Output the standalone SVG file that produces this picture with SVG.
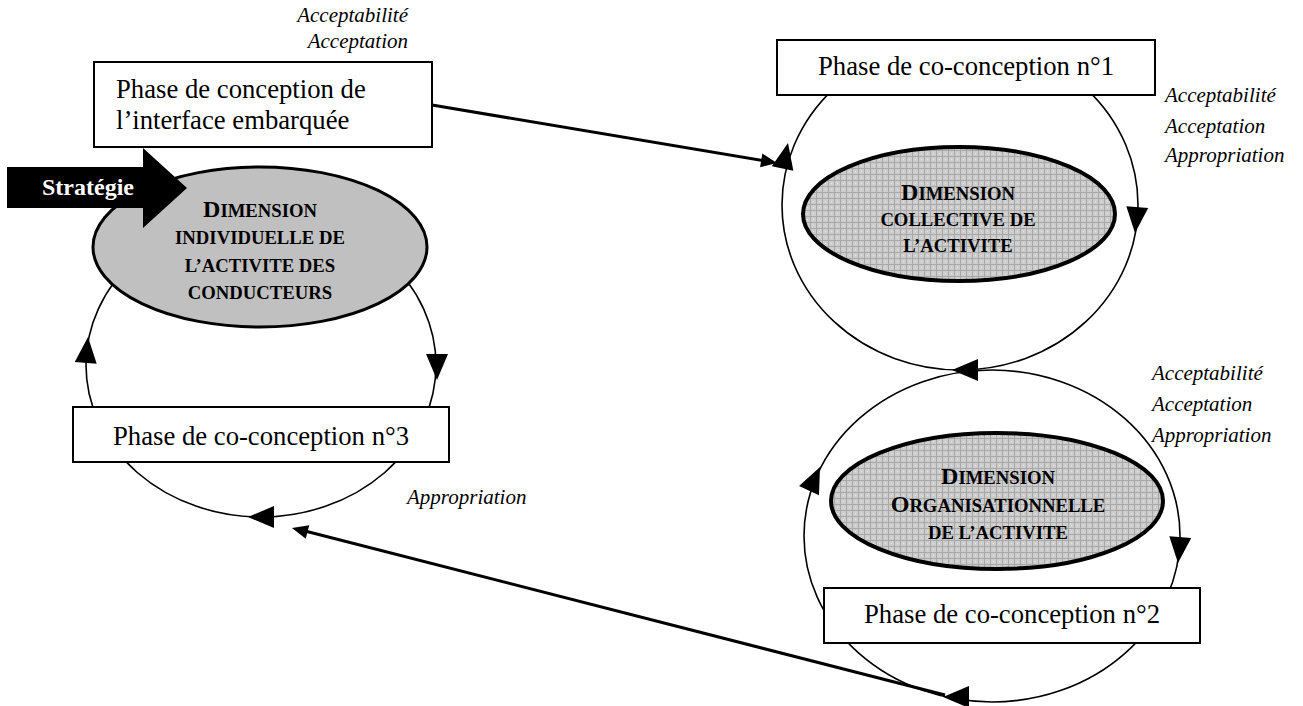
<svg xmlns="http://www.w3.org/2000/svg" xmlns:xlink="http://www.w3.org/1999/xlink" width="1303" height="706" viewBox="0 0 1303 706">
<defs>
<style>
.box{fill:#fff;stroke:#000;stroke-width:2}
.loop{fill:none;stroke:#000;stroke-width:1.6}
.lbl{font-family:"Liberation Serif","Times New Roman",serif;font-size:26.7px;fill:#000}
.it{font-family:"Liberation Serif","Times New Roman",serif;font-size:21px;font-style:italic;fill:#000}
.sc{font-family:"Liberation Serif","Times New Roman",serif;font-weight:bold;font-size:18.7px;fill:#000;text-anchor:middle}
.cap{font-size:24px}
.dim{stroke:#000;stroke-width:4}
.conn{stroke:#000;stroke-width:3;fill:none}
</style>
<pattern id="hatch" width="6" height="6" patternUnits="userSpaceOnUse">
<rect width="6" height="6" fill="#cdcdcd"/>
<path d="M0,0.5H6M0.5,0V6" stroke="#a8a8a8" stroke-width="1"/>
<rect x="3" y="3" width="1" height="1" fill="#e6e6e6"/>
</pattern>
<path id="ah" d="M0,0 L-26,-11 L-26,11 Z" fill="#000"/>
<path id="ahs" d="M0,0 L-16,-7 L-16,7 Z" fill="#000"/>
</defs>
<rect width="1303" height="706" fill="#fff"/>

<g id="connectors">
<ellipse class="loop" cx="261" cy="365" rx="175" ry="152"/>
<ellipse class="loop" cx="960" cy="205" rx="178" ry="165"/>
<ellipse class="loop" cx="992" cy="536" rx="188" ry="166"/>
<use xlink:href="#ah" transform="translate(88,337) rotate(-85)"/>
<use xlink:href="#ah" transform="translate(437,380) rotate(90)"/>
<use xlink:href="#ah" transform="translate(248,517) rotate(180)"/>
<use xlink:href="#ah" transform="translate(788,143) rotate(-78)"/>
<use xlink:href="#ah" transform="translate(1135,233) rotate(95)"/>
<use xlink:href="#ah" transform="translate(952,370) rotate(180)"/>
<use xlink:href="#ah" transform="translate(820,467) rotate(-65)"/>
<use xlink:href="#ah" transform="translate(1178,563) rotate(95)"/>
<use xlink:href="#ah" transform="translate(943,697) rotate(180)"/>
<line class="conn" x1="432" y1="105" x2="765" y2="161"/>
<use xlink:href="#ahs" transform="translate(777,163) rotate(9.5)"/>
<line class="conn" x1="945" y1="695" x2="305" y2="531"/>
<use xlink:href="#ahs" transform="translate(292,528) rotate(194.4)"/>
</g>

<g id="dim-individuelle">
<ellipse cx="260" cy="247" rx="167" ry="80" fill="#c0c0c0" stroke="#000" stroke-width="3"/>
<text class="sc" x="260" y="217"><tspan class="cap">D</tspan>IMENSION</text>
<text class="sc" x="260" y="244">INDIVIDUELLE DE</text>
<text class="sc" x="260" y="272">L’ACTIVITE DES</text>
<text class="sc" x="260" y="299">CONDUCTEURS</text>
</g>

<g id="strategie">
<path d="M7,167 H143 V148 L187,188 L143,228 V208 H7 Z" fill="#000"/>
<text x="42" y="195" font-family="Liberation Serif, Times New Roman, serif" font-weight="bold" font-size="24" fill="#fff">Stratégie</text>
</g>

<g id="dim-collective">
<ellipse class="dim" cx="959" cy="214" rx="156" ry="67" fill="url(#hatch)"/>
<text class="sc" x="958" y="200"><tspan class="cap">D</tspan>IMENSION</text>
<text class="sc" x="958" y="226">COLLECTIVE DE</text>
<text class="sc" x="958" y="252">L’ACTIVITE</text>
</g>

<g id="dim-organisationnelle">
<ellipse class="dim" cx="997" cy="501" rx="166" ry="68" fill="url(#hatch)"/>
<text class="sc" x="998" y="484"><tspan class="cap">D</tspan>IMENSION</text>
<text class="sc" x="998" y="512"><tspan class="cap">O</tspan>RGANISATIONNELLE</text>
<text class="sc" x="998" y="539">DE L’ACTIVITE</text>
</g>

<g id="phase-conception">
<rect class="box" x="94" y="62" width="338" height="85"/>
<text class="lbl" x="116" y="98">Phase de conception de</text>
<text class="lbl" x="116" y="129">l’interface embarquée</text>
</g>

<g id="phase-1">
<rect class="box" x="777" y="40" width="378" height="55"/>
<text class="lbl" x="966" y="75" text-anchor="middle">Phase de co-conception n°1</text>
</g>

<g id="phase-2">
<rect class="box" x="824" y="588" width="376" height="55"/>
<text class="lbl" x="1012" y="623" text-anchor="middle">Phase de co-conception n°2</text>
</g>

<g id="phase-3">
<rect class="box" x="73" y="407" width="376" height="55"/>
<text class="lbl" x="261" y="445" text-anchor="middle">Phase de co-conception n°3</text>
</g>

<g id="labels">
<text class="it" x="408" y="22" text-anchor="end">Acceptabilité</text>
<text class="it" x="408" y="48" text-anchor="end">Acceptation</text>
<text class="it" x="1165" y="102">Acceptabilité</text>
<text class="it" x="1165" y="133">Acceptation</text>
<text class="it" x="1165" y="162">Appropriation</text>
<text class="it" x="1152" y="380">Acceptabilité</text>
<text class="it" x="1152" y="411">Acceptation</text>
<text class="it" x="1152" y="442">Appropriation</text>
<text class="it" x="407" y="504">Appropriation</text>
</g>
</svg>
